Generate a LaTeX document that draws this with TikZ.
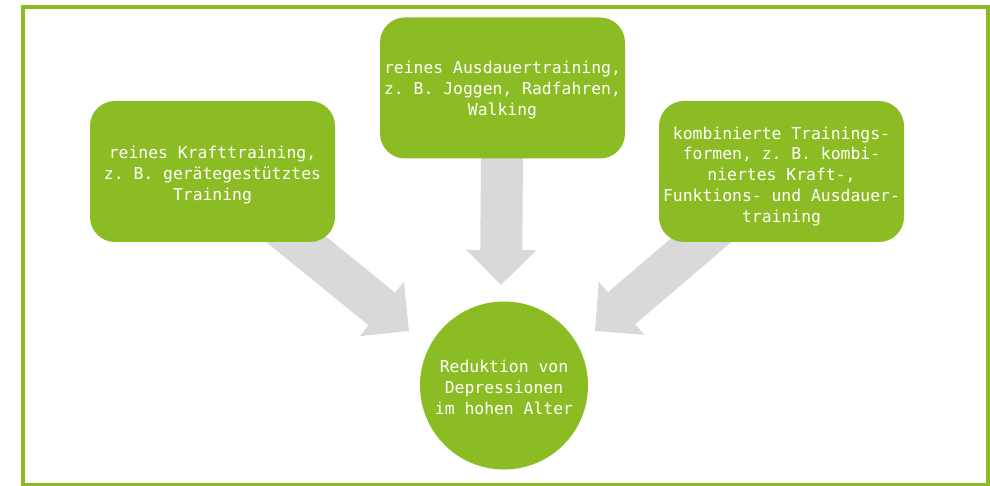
\documentclass[tikz,border=0pt]{standalone}
\usepackage{fontspec}
\newfontfamily\boxfont{DejaVu Sans Mono}
\usetikzlibrary{arrows.meta,backgrounds}
\definecolor{lgreen}{RGB}{139,188,35}
\definecolor{agray}{RGB}{217,217,217}
\frenchspacing
\newcommand{\downby}[1]{\rule{0pt}{#1}}
\tikzset{
  greenbox/.style={draw=none, fill=lgreen, rounded corners=25pt, minimum width=245pt, minimum height=141pt,
    inner sep=0pt, align=center, text=white, font=\boxfont\fontsize{16.4}{20.8}\selectfont},
  greencirc/.style={circle, draw=none, fill=lgreen, minimum size=168pt, inner sep=0pt,
    align=center, text=white, font=\boxfont\fontsize{16.4}{20.8}\selectfont},
  bigarrow/.style={draw=agray, line width=42pt, line cap=butt,
    -{Triangle[width=68pt 0 0, length=35pt 0 0, fill=agray]}},
  frame/.style={draw=lgreen, line width=4pt}
}
\begin{document}
\begin{tikzpicture}[x=1pt, y=-1pt]
\useasboundingbox (0,0) rectangle (990,486);
\draw[frame] (22.5,7) rectangle (988,484.5);
\node[greenbox] (lbox) at (212.5,171.5) {\frenchspacing\downby{19.5pt}reines Krafttraining,\\z. B. gerätegestütztes\\Training};
\node[greenbox] (mbox) at (502.5,88) {\frenchspacing\downby{16.5pt}reines Ausdauertraining,\\z. B. Joggen, Radfahren,\\Walking};
\node[greenbox] (rbox) at (781.5,171.5) {\frenchspacing\downby{22pt}kombinierte Trainings-\\formen, z. B. kombi-\\niertes Kraft-,\\Funktions- und Ausdauer-\\training};
\node[greencirc] (circ) at (504,385.5) {\frenchspacing\downby{16.5pt}Reduktion von\\Depressionen\\im hohen Alter};
\coordinate (tipL) at (409,331);
\coordinate (tipM) at (501,285);
\coordinate (tipR) at (595,331);
\begin{pgfonlayer}{background}
\draw[bigarrow] (lbox.center) -- (tipL);
\draw[bigarrow] (mbox.center) -- (tipM);
\draw[bigarrow] (rbox.center) -- (tipR);
\end{pgfonlayer}
\end{tikzpicture}
\end{document}
